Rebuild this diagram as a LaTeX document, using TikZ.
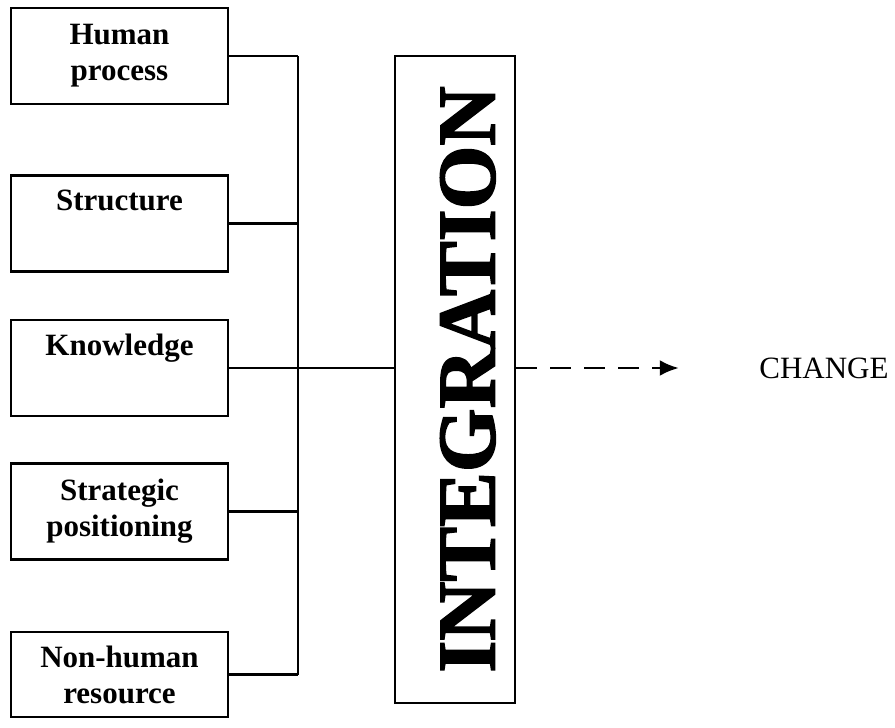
\documentclass[tikz,border=0pt]{standalone}
\usepackage{fontspec}
\setmainfont{Liberation Serif}
\newfontfamily\barfont{Liberation Serif}[BoldFeatures={FakeBold=2}]
\usepackage{graphicx}
\usetikzlibrary{arrows.meta}

\tikzset{
  factor/.style={draw, line width=1.3pt, minimum width=108.5pt, minimum height=48pt,
    align=center, inner sep=2pt, font=\bfseries\fontsize{15.5}{18}\selectfont},
  bar/.style={draw, line width=1.3pt, minimum width=60pt, minimum height=323.5pt,
    inner sep=0pt, font=\barfont\bfseries\fontsize{41}{41}\selectfont},
}

\begin{document}
\begin{tikzpicture}[x=0.5pt, y=-0.5pt, line width=1.2pt]
  \useasboundingbox (0,0) rectangle (895,728);
  % factors feeding the integration bar
  \node[factor] (hp) at (119.5,56) {Human\\process};
  \node[factor] (st) at (119.5,223.5) {Structure\\\strut};
  \node[factor] (kn) at (119.5,368) {Knowledge\\\strut};
  \node[factor] (sp) at (119.5,511.5) {Strategic\\positioning};
  \node[factor, minimum height=42.5pt] (nh) at (119.5,674.5) {Non-human\\resource};
  % integration bar and outcome
  \node[bar] (int) at (455,379.5) {\rotatebox{90}{INTEGRATION\rule{0pt}{40pt}}};
  \node[font=\fontsize{15.5}{18}\selectfont] (chg) at (824,368) {CHANGE};
  \coordinate (bus) at (298,368);
  % collecting bus
  \foreach \f in {hp,st,kn,sp,nh}
    \draw (\f.east) -- (\f.east -| bus);
  \draw (hp.east -| bus) -- (nh.east -| bus);
  \draw (kn.east -| bus) -- (kn.east -| int.west);
  % dashed arrow to change
  \draw[line width=1.4pt, dash pattern=on 10.5pt off 6.5pt, -{Latex[length=9.5pt,width=8pt]}]
    (kn.east -| int.east) -- ([xshift=-36.4pt]chg.west);
\end{tikzpicture}
\end{document}
